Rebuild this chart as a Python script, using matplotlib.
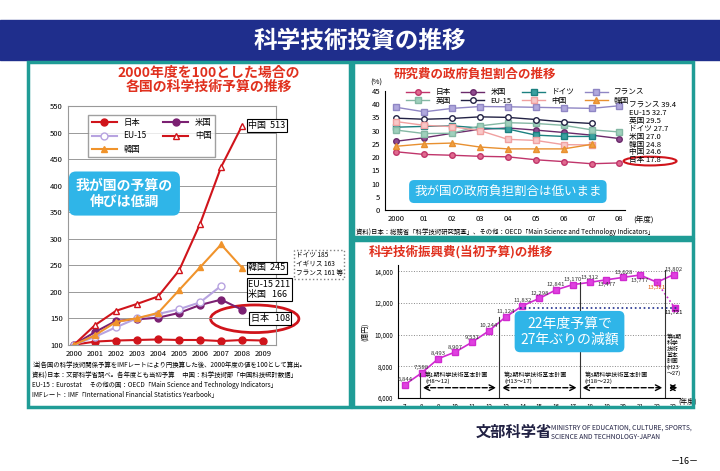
import matplotlib
matplotlib.use("Agg")
import matplotlib.pyplot as plt
from matplotlib.patches import Rectangle, Ellipse

plt.rcParams["font.family"] = ["Noto Sans CJK JP", "DejaVu Sans"]

# --- left chart: 2000 = 100 index
years_l = ["2000", "2001", "2002", "2003", "2004", "2005", "2006", "2007", "2008", "2009"]
japan_l = [100, 106, 108, 109, 110, 109, 109, 107, 109, 108]
us_l = [100, 124, 145, 148, 151, 160, 175, 185, 166]
eu_l = [100, 115, 133, 150, 158, 167, 180, 211]
china_l = [100, 137, 164, 177, 191, 240, 328, 435, 513]
korea_l = [100, 118, 143, 150, 160, 203, 246, 289, 245]

# --- top right: government share of R&D (%)
years_r = ["2000", "01", "02", "03", "04", "05", "06", "07", "08"]
share = {
    "日本": [22.0, 21.0, 20.7, 20.3, 20.1, 19.0, 18.3, 17.5, 17.8],
    "米国": [26.0, 27.3, 29.0, 30.5, 31.0, 30.2, 29.3, 28.3, 27.0],
    "ドイツ": [31.3, 31.6, 31.8, 31.0, 30.6, 28.3, 27.8, 27.8],
    "フランス": [38.8, 37.1, 38.4, 39.1, 39.0, 38.8, 38.6, 38.4, 39.4],
    "英国": [30.2, 28.9, 29.0, 31.8, 33.0, 32.7, 32.0, 30.3, 29.5],
    "EU-15": [34.7, 34.3, 34.6, 35.2, 35.0, 34.2, 33.3, 32.7],
    "中国": [33.4, 32.0, 31.5, 30.0, 26.7, 26.3, 24.7, 24.6],
    "韓国": [24.1, 25.0, 25.3, 23.8, 23.1, 23.1, 23.1, 24.8],
}
share_labels = ["フランス 39.4", "EU-15 32.7", "英国 29.5", "ドイツ 27.7",
                "米国 27.0", "韓国 24.8", "中国 24.6", "日本 17.8"]

# --- bottom right: S&T promotion budget (100M yen), fiscal H7..H23
fy = [7, 8, 9, 10, 11, 12, 13, 14, 15, 16, 17, 18, 19, 20, 21, 22, 23]
budget = [6844, 7588, 8493, 8907, 9531, 10244, 11124, 11832, 12298, 12841,
          13170, 13312, 13477, 13628, 13777, 13321, 13802]
budget_alt = 11721

fig = plt.figure(figsize=(7.2, 4.71), dpi=100)
fig.patch.set_facecolor("white")

# title banner
fig.patches.append(Rectangle((0.0, 1 - 60 / 471), 1, 40 / 471, transform=fig.transFigure,
                             color="#1f2e8c", zorder=0))
fig.text(0.5, 1 - 41 / 471, "科学技術投資の推移", ha="center", va="center",
         color="white", fontsize=17, fontweight="bold")
teal = "#1f9c96"
for (x0, y0, w, h) in [(28, 62, 322, 345), (353, 62, 340, 175), (353, 240, 340, 167)]:
    fig.patches.append(Rectangle((x0 / 720, 1 - (y0 + h) / 471), w / 720, h / 471,
                                 transform=fig.transFigure, fill=False, ec=teal, lw=2.5))

# ---------- left
ax = fig.add_axes([0.094, 0.268, 0.289, 0.507])
xl = range(len(years_l))
h_jp, = ax.plot(xl, japan_l, "-o", color="#d0141b", ms=5, label="日本")
h_us, = ax.plot(range(len(us_l)), us_l, "-o", color="#7b2072", ms=5, label="米国")
h_eu, = ax.plot(range(len(eu_l)), eu_l, "-o", color="#b7a3e0", mfc="white", ms=5, label="EU-15")
h_cn, = ax.plot(range(len(china_l)), china_l, "-^", color="#d0141b", mfc="white", ms=5, label="中国")
h_kr, = ax.plot(range(len(korea_l)), korea_l, "-^", color="#f0932b", ms=5, label="韓国")
ax.set_ylim(100, 550)
ax.set_xlim(-0.3, 9.6)
ax.set_yticks(range(100, 551, 50))
ax.set_xticks(list(xl))
ax.set_xticklabels(years_l)
ax.tick_params(labelsize=5.5, length=0)
ax.grid(axis="y", color="#999999", lw=0.7)
for s in ax.spines.values():
    s.set_color("#999999")
ax.legend(handles=[h_jp, h_eu, h_kr, h_us, h_cn], loc="upper left", ncol=2, fontsize=6,
          frameon=True, edgecolor="#888888", fancybox=False, bbox_to_anchor=(0.08, 0.98),
          handlelength=3)
box = dict(boxstyle="square,pad=0.2", fc="white", ec="black", lw=0.8)
ax.text(8.3, china_l[-1], f"中国  {china_l[-1]}", fontsize=6.5, va="center", bbox=box)
ax.text(8.3, korea_l[-1], f"韓国  {korea_l[-1]}", fontsize=6.5, va="center", bbox=box,
        zorder=5)
ax.text(8.3, 204, f"EU-15 {eu_l[-1]}\n米国   {us_l[-1]}", fontsize=6.5, va="center",
        bbox=box, clip_on=False)
ax.text(8.4, 150, f"日本   {japan_l[-1]}", fontsize=6.5, va="center", bbox=box)
ax.text(10.55, 252, "ドイツ 185\nイギリス 163\nフランス 161 等", fontsize=4.8, va="center",
        clip_on=False, bbox=dict(boxstyle="square,pad=0.2", fc="white", ec="gray", ls=":"))
ax.add_patch(Ellipse((8.6, 149), 4.2, 52, fill=False, ec="#d0141b", lw=2, clip_on=False))
ax.text(2.4, 385, "我が国の予算の\n伸びは低調", fontsize=10, color="white", ha="center",
        va="center", fontweight="bold",
        bbox=dict(boxstyle="round,pad=0.5", fc="#2fb5e8", ec="none"))
fig.text(0.29, 1 - 80 / 471, "2000年度を100とした場合の\n各国の科学技術予算の推移",
         ha="center", va="center", color="#e0301e", fontsize=10, fontweight="bold",
         linespacing=1.0)
fig.text(0.045, 1 - 380 / 471,
         "注)各国の科学技術関係予算をIMFレートにより円換算した後、2000年度の値を100として算出。\n"
         "資料)日本：文部科学省調べ。各年度とも当初予算　 中国：科学技術部「中国科技統計数据」\n"
         "EU-15：Eurostat　 その他の国：OECD「Main Science and Technology Indicators」\n"
         "IMFレート：IMF「International Financial Statistics Yearbook」",
         fontsize=4.6, va="center", linespacing=1.3)

# ---------- top right
ax2 = fig.add_axes([0.535, 0.554, 0.333, 0.253])
styles = {
    "日本": ("o", "#c0356b", "#e06a8f"), "米国": ("o", "#6b2a6b", "#8f4a8f"),
    "ドイツ": ("s", "#1c8080", "#3aa0a0"), "フランス": ("s", "#8f86c4", "#b0a8dd"),
    "英国": ("s", "#84b8a4", "#9fd0bc"), "EU-15": ("o", "#222244", "white"),
    "中国": ("s", "#f0a0a0", "#f8c8c8"), "韓国": ("^", "#e89030", "#f0a040"),
}
hs = {}
for k, v in share.items():
    m, c, f = styles[k]
    hs[k], = ax2.plot(range(len(v)), v, "-" + m, color=c, mfc=f, ms=4, lw=1, label=k)
ax2.set_ylim(0, 45)
ax2.set_xlim(-0.4, 8.2)
ax2.set_yticks(range(0, 46, 5))
ax2.set_xticks(range(len(years_r)))
ax2.set_xticklabels(years_r)
ax2.tick_params(labelsize=5.5, length=0)
for s in ["top", "right"]:
    ax2.spines[s].set_visible(False)
order = ["日本", "英国", "米国", "EU-15", "ドイツ", "中国", "フランス", "韓国"]
ax2.legend(handles=[hs[k] for k in order], loc="upper left", ncol=4, fontsize=5.5,
           frameon=False, handlelength=3, bbox_to_anchor=(0.06, 1.08), columnspacing=1.4,
           labelspacing=0.1)
for i, t in enumerate(share_labels):
    ax2.text(8.35, 39.5 - i * 2.95, t, fontsize=5.5, va="center", clip_on=False)
ax2.add_patch(Ellipse((9.1, 18.5), 1.9, 3.3, fill=False, ec="#d0141b", lw=1.5, clip_on=False))
ax2.text(4.0, 7, "我が国の政府負担割合は低いまま", fontsize=9, color="white", ha="center",
         va="center", bbox=dict(boxstyle="round,pad=0.4", fc="#2fb5e8", ec="none"))
ax2.text(-0.95, 47.5, "(%)", fontsize=5.5, clip_on=False)
ax2.text(8.5, -4.6, "(年度)", fontsize=5.5, clip_on=False)
fig.text(0.66, 1 - 74 / 471, "研究費の政府負担割合の推移", ha="center", va="center",
         color="#e0301e", fontsize=9, fontweight="bold")
fig.text(0.495, 1 - 232 / 471,
         "資料)日本：総務省「科学技術研究調査」、その他：OECD「Main Science and Technology Indicators」",
         fontsize=4.6, va="center")

# ---------- bottom right
ax3 = fig.add_axes([0.553, 0.155, 0.392, 0.282])
ax3.plot(fy, budget, "-s", color="#d02ad0", mfc="#e040e0", ms=5, lw=1.2)
ax3.plot([fy[-2], fy[-1] + 0.05], [budget[-2], budget_alt], ":", color="#d02ad0", lw=1.2)
ax3.plot([fy[-1] + 0.05], [budget_alt], "s", color="#d02ad0", ms=4)
ax3.axhline(budget_alt, xmin=0.43, xmax=0.99, color="#1f2e8c", ls=":", lw=1.2)
ax3.set_ylim(6000, 14400)
ax3.set_xlim(6.6, 23.4)
ax3.set_yticks(range(6000, 14001, 2000))
ax3.set_yticklabels([f"{v:,}" for v in range(6000, 14001, 2000)])
ax3.set_xticks(fy)
ax3.tick_params(labelsize=4.5, length=0)
ax3.grid(axis="y", color="#888888", ls=":", lw=0.7)
for s in ["top", "right"]:
    ax3.spines[s].set_visible(False)
for x, v in zip(fy, budget):
    col = "#e06010" if x == 22 else "#333333"
    dy = -420 if x in (19, 21, 22) else 220
    ax3.text(x, v + dy, f"{v:,}", fontsize=4.3, ha="center", color=col)
ax3.text(23, 11300, f"{budget_alt:,}", fontsize=4.3, ha="center")
for xb in [7.9, 12.6, 17.4, 22.5]:
    ax3.axvline(xb, ymax=0.96 if xb > 20 else (budget[fy.index(int(xb + 0.6))] - 6000) / 8400,
                color="#333333", lw=0.8)
plans = ["第1期科学技術基本計画\n(H8～12)", "第2期科学技術基本計画\n(H13～17)",
         "第3期科学技術基本計画\n(H18～22)"]
for xb, p in zip([7.9, 12.6, 17.4], plans):
    ax3.text(xb + 0.3, 7250, p, fontsize=4.3, va="center")
for a, b in [(7.9, 12.6), (12.6, 17.4), (17.4, 22.5), (22.5, 23.4)]:
    ax3.annotate("", xy=(a, 6650), xytext=(b, 6650),
                 arrowprops=dict(arrowstyle="<->", ls="--", lw=1, color="black"))
ax3.text(22.6, 8700, "第4期\n科学\n技術\n基本\n計画\n(H23\n～27)", fontsize=4.2, va="center")
ax3.text(16.8, 10200, "22年度予算で\n27年ぶりの減額", fontsize=10, color="white", ha="center",
         va="center", bbox=dict(boxstyle="round,pad=0.4", fc="#2fb5e8", ec="none"))
ax3.set_ylabel("(億円)", fontsize=5, rotation=90)
ax3.text(23.3, 5650, "(年度)", fontsize=5, clip_on=False)
fig.text(0.64, 1 - 252 / 471, "科学技術振興費(当初予算)の推移", ha="center", va="center",
         color="#e0301e", fontsize=9, fontweight="bold")

# footer
fig.text(0.66, 1 - 432 / 471, "文部科学省", fontsize=11, va="center", color="#222244",
         fontweight="bold")
fig.text(0.765, 1 - 432 / 471,
         "MINISTRY OF EDUCATION, CULTURE, SPORTS,\nSCIENCE AND TECHNOLOGY-JAPAN",
         fontsize=4.8, va="center", color="#222244")
fig.text(0.97, 1 - 462 / 471, "－16－", fontsize=6.5, ha="right", va="center")

fig.savefig("out.png", dpi=100)
